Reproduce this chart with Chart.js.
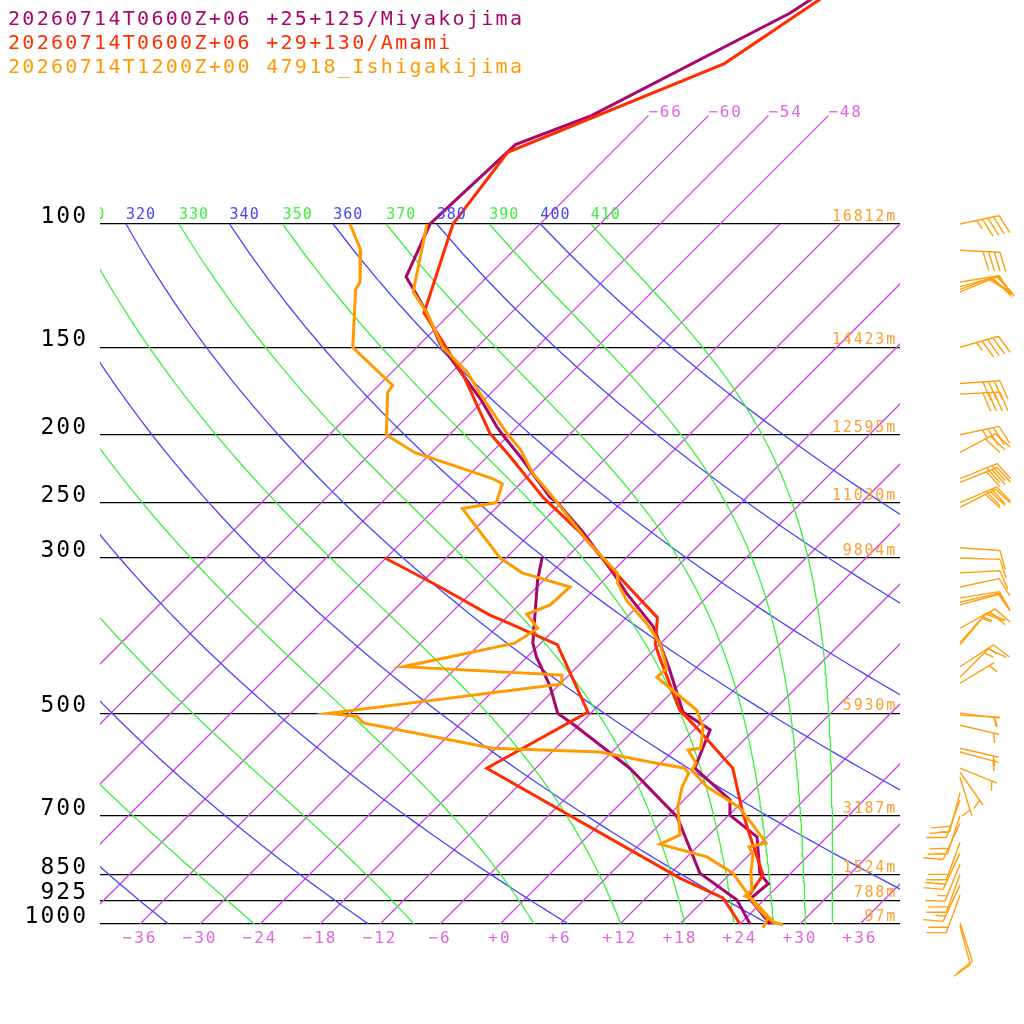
<!DOCTYPE html>
<html>
<head>
<meta charset="utf-8">
<script src="https://cdn.jsdelivr.net/npm/chart.js@4.4.1/dist/chart.umd.min.js"></script>
<style>
  html, body { margin: 0; padding: 0; background: #fff; }
  #wrap { width: 1024px; height: 1024px; }
</style>
</head>
<body>
<div id="wrap"><canvas id="skewt"></canvas></div>
<script>
// Settings
const FONT = "'DejaVu Sans Mono', monospace";
const SKEW = 70; // degC of shift per decade of pressure
const P_TOP = 47.86; // pressure at the top edge
const MINUS = "\u2212";

// Legend / stations
const stationNames = [
  "20260714T0600Z+06 +25+125/Miyakojima",
  "20260714T0600Z+06 +29+130/Amami",
  "20260714T1200Z+00 47918_Ishigakijima",
];
const stationColors = ["#a8066c", "#ff2d00", "#ff9a00"];

// Miyakojima
const miyakoTempP = [45, 50, 70, 77, 100, 119, 124, 134, 148, 165, 178, 195, 201, 215, 232, 246, 250, 276, 315, 337, 376, 397, 434, 498, 528, 561, 599, 665, 699, 751, 846, 876, 921, 1000];
const miyakoTempT = [-60.4, -62.1, -71.7, -76.4, -77.0, -74.1, -72.1, -68.4, -64.1, -58.4, -54.4, -50.0, -48.4, -44.7, -40.7, -37.6, -36.4, -30.8, -23.8, -20.4, -14.4, -12.1, -8.4, -2.9, 1.6, 2.7, 3.9, 10.6, 12.1, 17.0, 20.9, 22.8, 22.5, 27.0];
const miyakoDewP = [300, 323, 397, 416, 456, 500, 521, 555, 599, 703, 846, 924, 1000];
const miyakoDewT = [-32.4, -30.6, -24.8, -23.0, -18.9, -15.3, -12.3, -7.9, -2.6, 7.0, 14.9, 21.3, 25.0];

// Amami
const amamiTempP = [45, 59, 79, 100, 134, 146, 165, 199, 215, 246, 276, 309, 365, 399, 416, 495, 525, 599, 687, 734, 802, 851, 915, 939, 1000];
const amamiTempT = [-59.6, -63.6, -76.4, -74.7, -68.7, -64.4, -58.4, -50.1, -45.7, -38.3, -31.1, -24.7, -14.9, -12.4, -10.7, -3.4, 0.1, 7.7, 12.8, 15.4, 19.0, 21.4, 22.1, 23.8, 27.3];
const amamiDewP = [300, 330, 362, 368, 399, 498, 599, 860, 918, 1000];
const amamiDewT = [-48.1, -39.7, -31.9, -30.2, -22.2, -12.4, -16.9, 13.4, 19.7, 24.0];

// Ishigakijima
const ishiTempP = [100, 125, 134, 150, 163, 178, 199, 210, 227, 246, 283, 315, 326, 345, 372, 397, 431, 444, 495, 523, 561, 564, 589, 603, 637, 665, 683, 718, 766, 776, 797, 843, 894, 912, 921, 993, 1003];
const ishiTempT = [-77.3, -71.9, -68.4, -63.4, -58.4, -54.1, -48.4, -45.4, -41.8, -37.3, -29.7, -23.4, -22.3, -19.7, -15.4, -12.1, -8.9, -9.0, -1.7, 0.6, 2.5, 1.4, 3.5, 3.8, 7.0, 10.4, 12.4, 15.1, 18.5, 17.2, 18.4, 19.9, 21.8, 21.7, 22.7, 27.1, 28.4];
const ishiDewP = [100, 109, 121, 124, 150, 170, 174, 200, 212, 231, 235, 250, 255, 300, 315, 330, 350, 361, 378, 397, 429, 441, 454, 500, 505, 516, 561, 568, 587, 599, 609, 637, 681, 746, 769, 802, 846, 903, 946, 981, 1013];
const ishiDewT = [-85.0, -81.3, -78.2, -77.9, -72.4, -64.6, -64.4, -60.3, -55.7, -45.3, -43.8, -42.5, -45.3, -36.6, -32.9, -26.7, -26.9, -28.3, -25.8, -26.6, -35.4, -18.7, -17.8, -38.2, -35.1, -33.8, -18.3, -7.2, -1.2, 2.9, 3.8, 4.5, 6.1, 9.1, 8.0, 14.0, 18.2, 21.6, 24.0, 26.2, 26.7];

// Ishigakijima winds (pressure, direction from, knots)
const windP = [100, 109, 121, 123, 124, 125, 150, 169, 175, 200, 212, 231, 234, 250, 254, 290, 300, 315, 330, 342, 347, 350, 378, 396, 399, 429, 444, 453, 500, 503, 520, 561, 568, 599, 607, 617, 650, 665, 700, 718, 764, 792, 821, 850, 880, 909, 997, 1007];
const windDir = [78, 93, 81, 74, 70, 68, 74, 86, 87, 78, 62, 68, 68, 67, 63, 94, 92, 87, 78, 81, 77, 75, 61, 42, 40, 57, 45, 59, 97, 93, 103, 103, 105, 112, 145, 163, 195, 200, 198, 205, 200, 205, 202, 200, 205, 200, 162, 165];
const windSpd = [45, 40, 50, 50, 50, 50, 45, 40, 40, 35, 30, 30, 30, 30, 30, 10, 10, 10, 10, 10, 10, 10, 20, 15, 15, 15, 15, 5, 5, 5, 5, 5, 5, 5, 5, 5, 20, 15, 20, 15, 20, 20, 15, 20, 15, 20, 10, 10];

// Diagram grid
const pLevels = [100, 150, 200, 250, 300, 500, 700, 850, 925, 1000];
const heightLabels = ["16812m", "14423m", "12595m", "11030m", "9804m", "5930m", "3187m", "1524m", "788m", "97m"];
const tempTicks = [-36, -30, -24, -18, -12, -6, 0, 6, 12, 18, 24, 30, 36];
const isoTemps = [-66, -60, -54, -48, -42, -36, -30, -24, -18, -12, -6, 0, 6, 12, 18, 24, 30, 36];
const isoLabelTemps = [-66, -60, -54, -48]; // these run up to 70 hPa
const thetaDry = [240, 260, 280, 300, 320, 340, 360, 380, 400];
const thetaMoist = [250, 270, 290, 310, 330, 350, 370, 390, 410];

const isoColor = "rgb(206, 70, 226)";
const dryColor = "rgb(70, 70, 255)";
const moistColor = "rgb(60, 240, 60)";
const heightColor = "#ffa030";
const tickColor = "#e066e0";

function skewX(t, p) {
  return t + SKEW * Math.log10(1000 / p);
}

function toPoints(ps, ts) {
  return ps.map((p, i) => ({ x: skewX(ts[i], p), y: p }));
}

function satMix(t, p) {
  const es = 6.112 * Math.exp((17.67 * t) / (t + 243.5));
  return (622 * es) / (p - es);
}

function thetaE(t, p) {
  const tk = t + 273.15;
  const r = satMix(t, p);
  return tk * Math.pow(1000 / p, 0.2854 * (1 - 0.00028 * r)) *
    Math.exp((3.376 / tk - 0.00254) * r * (1 + 0.00081 * r));
}

function moistTemp(te, p) {
  let lo = -150, hi = 40;
  for (let i = 0; i < 50; i++) {
    const mid = (lo + hi) / 2;
    if (thetaE(mid, p) > te) hi = mid; else lo = mid;
  }
  return (lo + hi) / 2;
}

function dryTemp(th, p) {
  return th * Math.pow(p / 1000, 0.2857) - 273.15;
}

const curveP = [];
for (let p = 1000; p >= 100; p -= 10) curveP.push(p);

function lineSet(data, color, width, extra) {
  return Object.assign({
    data: data,
    borderColor: color,
    backgroundColor: color,
    borderWidth: width,
    showLine: true,
    pointRadius: 0,
    fill: false,
    tension: 0,
  }, extra || {});
}

// first dataset is drawn on top
const datasets = [];
const soundingClip = { left: 2, right: 2, top: 2, bottom: 6 };
datasets.push(lineSet(toPoints(ishiTempP, ishiTempT), stationColors[2], 3, { clip: soundingClip }));
datasets.push(lineSet(toPoints(ishiDewP, ishiDewT), stationColors[2], 3, { clip: soundingClip }));
datasets.push(lineSet(toPoints(amamiTempP, amamiTempT), stationColors[1], 3, { clip: soundingClip }));
datasets.push(lineSet(toPoints(amamiDewP, amamiDewT), stationColors[1], 3, { clip: soundingClip }));
datasets.push(lineSet(toPoints(miyakoTempP, miyakoTempT), stationColors[0], 3, { clip: soundingClip }));
datasets.push(lineSet(toPoints(miyakoDewP, miyakoDewT), stationColors[0], 3, { clip: soundingClip }));

thetaMoist.forEach((te) => {
  datasets.push(lineSet(curveP.map((p) => ({ x: skewX(moistTemp(te, p), p), y: p })), moistColor, 1.3));
});
thetaDry.forEach((th) => {
  datasets.push(lineSet(curveP.map((p) => ({ x: skewX(dryTemp(th, p), p), y: p })), dryColor, 1.3));
});
isoTemps.forEach((t) => {
  const top = isoLabelTemps.includes(t) ? 70 : 100;
  datasets.push(lineSet([{ x: skewX(t, 1000), y: 1000 }, { x: skewX(t, top), y: top }], isoColor, 1.3));
});

function fmtTemp(v) {
  if (v < 0) return MINUS + Math.abs(v);
  return "+" + v;
}

function drawText(ctx, text, x, y, font, spacing, color, align) {
  ctx.save();
  ctx.font = font;
  ctx.letterSpacing = spacing + "px";
  ctx.fillStyle = color;
  ctx.textAlign = align || "left";
  ctx.textBaseline = "alphabetic";
  ctx.fillText(text, x, y);
  ctx.restore();
}

function drawBarb(ctx, x0, y0, dir, spd) {
  const a = (dir * Math.PI) / 180;
  const ux = Math.sin(a), uy = -Math.cos(a);
  const len = 40;
  const tx = x0 + ux * len, ty = y0 + uy * len;
  const r = (70 * Math.PI) / 180;
  const bx = ux * Math.cos(r) - uy * Math.sin(r);
  const by = ux * Math.sin(r) + uy * Math.cos(r);
  ctx.beginPath();
  ctx.moveTo(x0, y0);
  ctx.lineTo(tx, ty);
  let pos = 0;
  let rest = spd;
  while (rest >= 50) {
    const px = tx - ux * pos, py = ty - uy * pos;
    ctx.moveTo(px, py);
    ctx.lineTo(px + bx * 22, py + by * 22);
    ctx.lineTo(tx - ux * (pos + 8), ty - uy * (pos + 8));
    pos += 10;
    rest -= 50;
  }
  while (rest >= 10) {
    const px = tx - ux * pos, py = ty - uy * pos;
    ctx.moveTo(px, py);
    ctx.lineTo(px + bx * 20, py + by * 20);
    pos += 5.7;
    rest -= 10;
  }
  if (rest >= 5) {
    if (spd < 10) pos = 5.7;
    const px = tx - ux * pos, py = ty - uy * pos;
    ctx.moveTo(px, py);
    ctx.lineTo(px + bx * 10, py + by * 10);
  }
  ctx.stroke();
}

const annotations = {
  id: "annotations",
  beforeDraw(chart) {
    chart.ctx.letterSpacing = "2px"; // used by the axis tick labels
  },
  afterDraw(chart) {
    const ctx = chart.ctx;
    const xs = chart.scales.x, ys = chart.scales.y;
    const area = chart.chartArea;

    // potential temperature labels on the 100 hPa line (clipped to plot)
    ctx.save();
    ctx.beginPath();
    ctx.rect(area.left, 0, area.right - area.left, area.bottom);
    ctx.clip();
    const y100 = ys.getPixelForValue(100);
    thetaDry.forEach((th) => {
      const x = xs.getPixelForValue(skewX(dryTemp(th, 100), 100));
      drawText(ctx, String(th), x, y100 - 5, "15px " + FONT, 1, dryColor);
    });
    thetaMoist.forEach((te) => {
      const x = xs.getPixelForValue(skewX(moistTemp(te, 100), 100));
      drawText(ctx, String(te), x, y100 - 5, "15px " + FONT, 1, moistColor);
    });
    ctx.restore();

    // isotherm labels at the top ends
    isoLabelTemps.forEach((t) => {
      const x = xs.getPixelForValue(skewX(t, 70));
      const y = ys.getPixelForValue(70);
      drawText(ctx, fmtTemp(t), x, y + 1, "16px " + FONT, 1.8, tickColor);
    });

    // heights of the standard levels
    pLevels.forEach((p, i) => {
      const y = ys.getPixelForValue(p);
      drawText(ctx, heightLabels[i], area.right - 3, y - 3, "15px " + FONT, 1.8, heightColor, "right");
    });

    // station legend
    stationNames.forEach((name, i) => {
      drawText(ctx, name, 8, 25 + i * 24, "20px " + FONT, 2.3, stationColors[i]);
    });

    // wind barbs
    ctx.save();
    ctx.strokeStyle = "#ffa010";
    ctx.lineWidth = 1.4;
    ctx.lineJoin = "miter";
    const xb = xs.getPixelForValue(46);
    windP.forEach((p, i) => {
      drawBarb(ctx, xb, ys.getPixelForValue(p), windDir[i], windSpd[i]);
    });
    ctx.restore();
  },
};

new Chart(document.getElementById("skewt"), {
  type: "scatter",
  data: { datasets: datasets },
  options: {
    responsive: true,
    maintainAspectRatio: false,
    animation: false,
    events: [],
    layout: { padding: { left: 0, right: 124, top: 0, bottom: 0 } },
    plugins: {
      legend: { display: false },
      tooltip: { enabled: false },
    },
    scales: {
      x: {
        type: "linear",
        min: -40,
        max: 40,
        afterBuildTicks: (s) => {
          s.ticks = tempTicks.map((v) => ({ value: v }));
        },
        afterFit: (s) => {
          s.height = 100;
          s.paddingLeft = 0;
          s.paddingRight = 0;
        },
        grid: { display: false },
        border: { display: false },
        ticks: {
          color: tickColor,
          font: { family: FONT, size: 16 },
          padding: -3,
          maxRotation: 0,
          autoSkip: false,
          callback: (v) => fmtTemp(v),
        },
      },
      y: {
        type: "logarithmic",
        reverse: true,
        min: P_TOP,
        max: 1000,
        afterBuildTicks: (s) => {
          s.ticks = pLevels.map((v) => ({ value: v }));
        },
        afterFit: (s) => {
          s.width = 100;
          s.paddingTop = 0;
          s.paddingBottom = 0;
        },
        grid: { color: "#000", lineWidth: 1.3, drawTicks: false },
        border: { display: false },
        ticks: {
          color: "#000",
          font: { family: FONT, size: 23 },
          padding: 12,
          labelOffset: -7,
          autoSkip: false,
          callback: (v) => String(v),
        },
      },
    },
  },
  plugins: [annotations],
});
</script>
</body>
</html>
